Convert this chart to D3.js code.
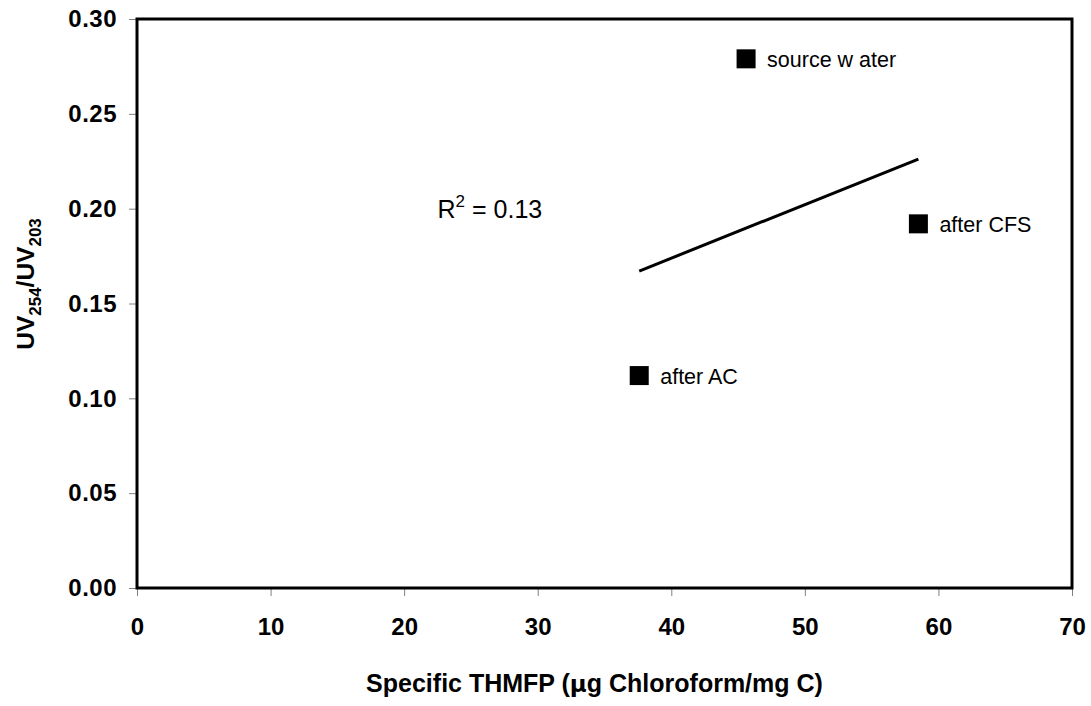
<!DOCTYPE html>
<html>
<head>
<meta charset="utf-8">
<script src="https://cdn.jsdelivr.net/npm/d3@7"></script>
<style>
  body { margin: 0; background: #fff; }
  text { font-family: Arial, "Liberation Sans", sans-serif; }
</style>
</head>
<body>
<svg id="chart" width="1091" height="706"></svg>
<script>
// data
var samples  = ["source w ater", "after CFS", "after AC"];
var thmfp    = [45.6, 58.5, 37.6];      // specific THMFP (ug chloroform / mg C)
var uvRatio  = [0.279, 0.192, 0.112];   // UV254/UV203
var xTicks   = [0, 10, 20, 30, 40, 50, 60, 70];
var yTicks   = [0, 0.05, 0.10, 0.15, 0.20, 0.25, 0.30];
var r2Label  = "0.13";

var margin = {top: 19, right: 19, bottom: 118, left: 137},
    W = 1091, H = 706,
    width  = W - margin.left - margin.right,
    height = H - margin.top - margin.bottom;

var svg = d3.select("#chart");
var g = svg.append("g").attr("transform", "translate(" + margin.left + "," + margin.top + ")");

var x = d3.scaleLinear().domain([0, 70]).range([0, width]);
var y = d3.scaleLinear().domain([0, 0.30]).range([height, 0]);

var pts = samples.map(function(s, i){ return {name: s, x: thmfp[i], y: uvRatio[i]}; });

// axes
var xAxis = g.append("g")
  .attr("transform", "translate(0," + height + ")")
  .call(d3.axisBottom(x).tickValues(xTicks).tickSize(8).tickPadding(22).tickFormat(d3.format("d")));
var yAxis = g.append("g")
  .call(d3.axisLeft(y).tickValues(yTicks).tickSize(8).tickPadding(12).tickFormat(d3.format(".2f")));

[xAxis, yAxis].forEach(function(a){
  a.select(".domain").remove();
  a.selectAll(".tick line").attr("stroke", "#808080").attr("stroke-width", 1);
  a.selectAll(".tick text")
    .attr("fill", "#000")
    .style("font-family", "Arial, 'Liberation Sans', sans-serif")
    .style("font-size", "24px")
    .style("font-weight", "bold");
});
yAxis.selectAll(".tick text").style("letter-spacing", "0.5px");

// plot frame
g.append("rect")
  .attr("width", width).attr("height", height)
  .attr("fill", "none").attr("stroke", "#000").attr("stroke-width", 3);

// linear trend line (least squares on the three samples)
var mx = d3.mean(pts, function(d){ return d.x; }),
    my = d3.mean(pts, function(d){ return d.y; });
var slope = d3.sum(pts, function(d){ return (d.x - mx) * (d.y - my); }) /
            d3.sum(pts, function(d){ return (d.x - mx) * (d.x - mx); });
var xr = d3.extent(pts, function(d){ return d.x; });
var trend = xr.map(function(v){ return [v, my + slope * (v - mx)]; });

g.append("path")
  .datum(trend)
  .attr("fill", "none").attr("stroke", "#000").attr("stroke-width", 3)
  .attr("d", d3.line().x(function(d){ return x(d[0]); }).y(function(d){ return y(d[1]); }));

// markers
var ms = 19;
g.selectAll("rect.pt").data(pts).enter().append("rect")
  .attr("class", "pt")
  .attr("x", function(d){ return x(d.x) - ms / 2; })
  .attr("y", function(d){ return y(d.y) - ms / 2; })
  .attr("width", ms).attr("height", ms)
  .attr("fill", "#000");

g.selectAll("text.lbl").data(pts).enter().append("text")
  .attr("class", "lbl")
  .attr("x", function(d){ return x(d.x) + 21; })
  .attr("y", function(d){ return y(d.y) + 8; })
  .style("font-size", "21.5px")
  .text(function(d){ return d.name; });

// R squared
var r2 = g.append("text")
  .attr("x", x(22.5)).attr("y", y(0.195))
  .style("font-size", "25px");
r2.append("tspan").text("R");
r2.append("tspan").attr("dy", -11).style("font-size", "17px").text("2");
r2.append("tspan").attr("dy", 11).text(" = " + r2Label);

// axis titles
var xt = svg.append("text")
  .attr("x", margin.left + width / 2 - 10).attr("y", 692)
  .attr("text-anchor", "middle")
  .style("font-size", "25px").style("font-weight", "bold");
xt.append("tspan").text("Specific THMFP (");
xt.append("tspan").style("font-family", "'DejaVu Sans', sans-serif").style("font-size", "23px").text("\u03bc");
xt.append("tspan").text("g Chloroform/mg C)");

var yt = svg.append("text")
  .attr("transform", "translate(34," + 284 + ") rotate(-90)")
  .attr("text-anchor", "middle")
  .style("font-size", "24.5px").style("font-weight", "bold");
yt.append("tspan").text("UV");
yt.append("tspan").attr("dy", 7).style("font-size", "17px").text("254");
yt.append("tspan").attr("dy", -7).text("/UV");
yt.append("tspan").attr("dy", 7).style("font-size", "17px").text("203");
</script>
</body>
</html>
